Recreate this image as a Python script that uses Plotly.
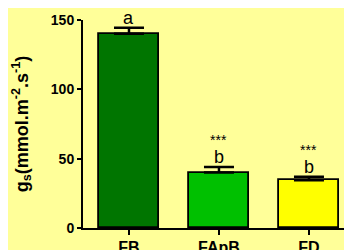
import plotly.graph_objects as go

categories = ["FB", "FApB", "FD"]
values = [140, 40, 34.5]
errors = [4.5, 4, 2.5]
letters = ["a", "b", "b"]
stars = ["", "***", "***"]
bar_colors = ["#007500", "#00C000", "#FFFF00"]
y_ticks = [0, 50, 100, 150]

FONT = "Liberation Sans, Arial, sans-serif"

fig = go.Figure()
fig.add_trace(go.Bar(
    x=categories, y=values, width=0.667,
    marker=dict(color=bar_colors, line=dict(color="black", width=1.8)),
    error_y=dict(type="data", array=errors, arrayminus=[0]*3, symmetric=False,
                 color="black", thickness=2.5, width=15),
))

for c, v, e, l, s in zip(categories, values, errors, letters, stars):
    fig.add_annotation(x=c, y=v + e, text=l, showarrow=False, yanchor="bottom",
                       yshift=-2, font=dict(family=FONT, size=18, color="black"))
    if s:
        fig.add_annotation(x=c, y=v + e, text=s, showarrow=False, yanchor="bottom",
                           yshift=17, font=dict(family=FONT, size=14, color="black"))

fig.update_layout(
    width=360, height=258,
    margin=dict(l=75, r=0, t=12, b=38),
    paper_bgcolor="#FFFF99", plot_bgcolor="#FFFF99",
    showlegend=False, bargap=0,
    font=dict(family=FONT, color="black"),
)
fig.update_xaxes(
    range=[-0.511, 2.656], showgrid=False, showline=True, linecolor="black", linewidth=2,
    ticks="outside", ticklen=5, tickwidth=2, tickcolor="black", automargin=False,
    ticklabelstandoff=-1,
    tickfont=dict(family=FONT, size=16, weight="bold"),
)
fig.update_yaxes(
    range=[0, 150], tickvals=y_ticks, showgrid=False, zeroline=False,
    showline=True, linecolor="black", linewidth=2, automargin=False,
    ticks="outside", ticklen=4, tickwidth=2, tickcolor="black",
    tickfont=dict(family=FONT, size=14, weight="bold"),
    title=dict(text="g<sub>s</sub>(mmol.m<sup>-2</sup>.s<sup>-1</sup>)",
               font=dict(family=FONT, size=18, weight="bold"), standoff=18),
)

fig.write_html("out.html")
